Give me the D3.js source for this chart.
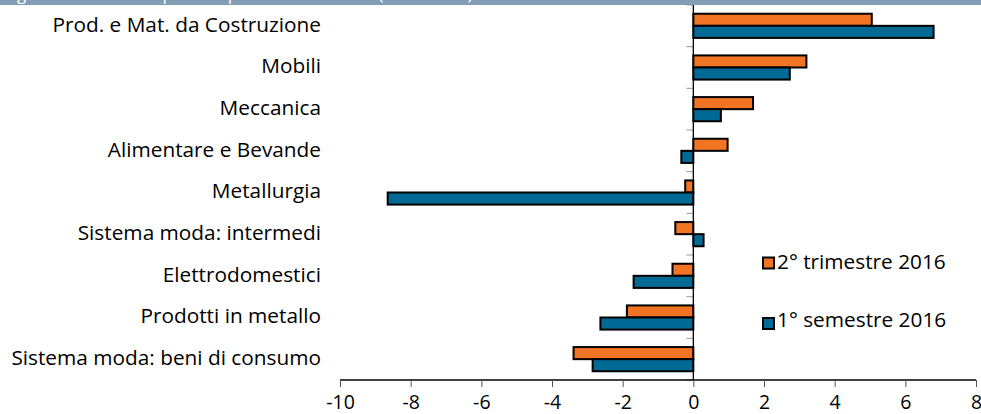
<!DOCTYPE html>
<html><head><meta charset="utf-8">
<script src="https://cdn.jsdelivr.net/npm/d3@7"></script>
<style>body{margin:0;background:#fff}svg{display:block}</style>
</head><body>
<script>
const categories = ["Prod. e Mat. da Costruzione","Mobili","Meccanica","Alimentare e Bevande","Metallurgia","Sistema moda: intermedi","Elettrodomestici","Prodotti in metallo","Sistema moda: beni di consumo"];
const seriesNames = ["2° trimestre 2016","1° semestre 2016"];
const trimestre = [5.05, 3.2, 1.69, 0.97, -0.23, -0.51, -0.59, -1.88, -3.39];
const semestre = [6.8, 2.73, 0.78, -0.34, -8.65, 0.29, -1.69, -2.63, -2.85];
const xTicks = [-10,-8,-6,-4,-2,0,2,4,6,8];
const colors = ["#F07423","#006A94"];
const titleText = "Figura 7 – Fatturato per comparto: variazioni % (2016/2015)";

const W=981,H=414;
const svg=d3.select("body").append("svg").attr("width",W).attr("height",H);
const font="'Open Sans', 'Noto Sans', sans-serif";

// title band (clipped, as in the reference)
svg.append("rect").attr("x",0).attr("y",0).attr("width",W).attr("height",5).attr("fill","#829EB6");
svg.append("defs").append("clipPath").attr("id","tb").append("rect").attr("x",0).attr("y",0).attr("width",W).attr("height",5);
svg.append("text").attr("clip-path","url(#tb)").attr("x",4).attr("y",0).attr("fill","#fff")
  .attr("font-family",font).attr("font-size",17).text(titleText);

const x=d3.scaleLinear().domain([-10,8]).range([340,976]);
const y=d3.scaleBand().domain(categories).range([5,380]).paddingInner(0.42).paddingOuter(0.21);
const y1=d3.scaleBand().domain(seriesNames).range([0,y.bandwidth()]);

// category ticks
const bounds=d3.range(categories.length+1).map(i=>5+i*(375/categories.length));
svg.append("g").selectAll("line").data(bounds).join("line")
  .attr("x1",x(0)-7).attr("x2",x(0)).attr("y1",d=>d).attr("y2",d=>d)
  .attr("stroke","#999").attr("stroke-width",1);

const data=[trimestre,semestre];
data.forEach((vals,si)=>{
  svg.append("g").selectAll("rect").data(vals).join("rect")
    .attr("x",d=>x(Math.min(0,d))).attr("width",d=>Math.abs(x(d)-x(0)))
    .attr("y",(d,i)=>y(categories[i])+y1(seriesNames[si])).attr("height",y1.bandwidth())
    .attr("fill",colors[si]).attr("stroke","#000").attr("stroke-width",2);
});

// zero line
svg.append("line").attr("x1",x(0)).attr("x2",x(0)).attr("y1",5).attr("y2",380).attr("stroke","#000").attr("stroke-width",1.3);

// x axis
const ax=svg.append("g").attr("transform","translate(0,380)")
  .call(d3.axisBottom(x).tickValues(xTicks).tickSize(7).tickPadding(8).tickFormat(d=>String(d)));
ax.select(".domain").attr("stroke","#000").attr("stroke-width",1.3).attr("d","M340,0H976");
ax.selectAll(".tick line").attr("stroke","#555");
ax.selectAll(".tick text").attr("font-family",font).attr("font-size",19.5).attr("fill","#000");

// category labels
svg.append("g").selectAll("text").data(categories).join("text")
  .attr("x",321).attr("y",d=>y(d)+y.bandwidth()/2-1.5).attr("dy","0.35em")
  .attr("text-anchor","end").attr("font-family",font).attr("font-size",20.8).attr("fill","#000").text(d=>d);

// legend
const lg=svg.append("g");
[[263,262],[323.5,320]].forEach(([sy,ty],i)=>{
  lg.append("rect").attr("x",763).attr("y",sy-5.5).attr("width",11).attr("height",11)
    .attr("fill",colors[i]).attr("stroke","#000").attr("stroke-width",2);
  lg.append("text").attr("x",777).attr("y",ty).attr("dy","0.35em").attr("font-family",font)
    .attr("font-size",20.8).attr("fill","#000").text(seriesNames[i]);
});
</script>
</body></html>
